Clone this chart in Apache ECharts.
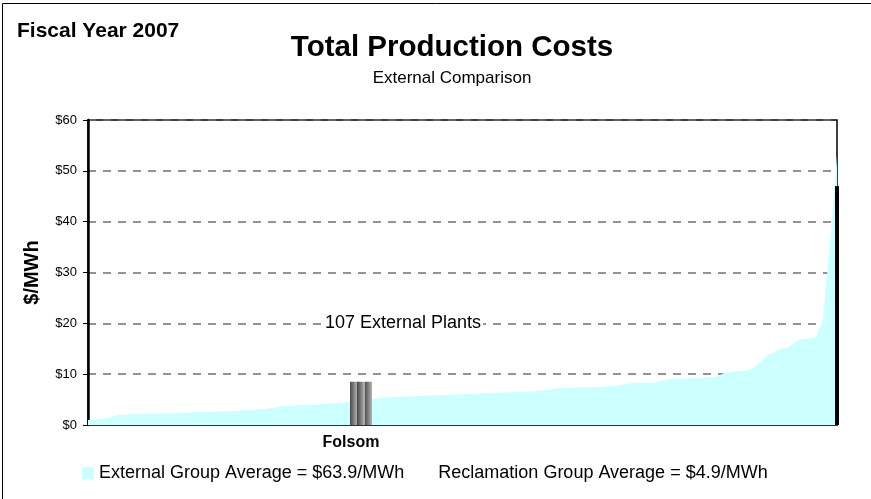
<!DOCTYPE html>
<html><head><meta charset="utf-8">
<script src="https://cdn.jsdelivr.net/npm/echarts@6/dist/echarts.min.js"></script>
<style>html,body{margin:0;padding:0;background:#fff}#c{width:871px;height:499px}</style>
</head><body><div id="c"></div><script>
// ---- data ----
const folsomIndex = 39;
const categories = Array.from({length: 108}, (_, i) => i === folsomIndex ? 'Folsom' : 'Plant ' + (i < folsomIndex ? i + 1 : i));
const costValues = [
  1.0, 1.1, 1.3, 1.4, 1.9, 2.0, 2.1, 2.1, 2.2, 2.2,
  2.2, 2.3, 2.3, 2.4, 2.4, 2.5, 2.5, 2.6, 2.6, 2.7,
  2.7, 2.8, 2.9, 2.9, 3.0, 3.1, 3.3, 3.5, 3.7, 3.8,
  3.9, 4.0, 4.0, 4.1, 4.2, 4.3, 4.4, 4.5, 4.6, 4.7,
  5.0, 5.2, 5.4, 5.4, 5.5, 5.6, 5.6, 5.7, 5.8, 5.8,
  5.9, 5.9, 6.0, 6.0, 6.1, 6.1, 6.2, 6.2, 6.3, 6.4,
  6.4, 6.5, 6.6, 6.6, 6.7, 6.8, 7.0, 7.2, 7.3, 7.3,
  7.4, 7.4, 7.5, 7.5, 7.6, 7.7, 7.8, 8.1, 8.3, 8.3,
  8.3, 8.4, 8.7, 9.0, 9.1, 9.1, 9.2, 9.2, 9.3, 9.4,
  9.6, 10.3, 10.5, 10.6, 10.7, 11.1, 12.4, 13.6, 14.3, 15.0,
  15.2, 16.3, 16.9, 17.0, 17.3, 21.0, 36.0, 53.0
];
const folsomValue = 8.5;
const lastPlantEdge = 47;
const yTicks = [0, 10, 20, 30, 40, 50, 60];
const annotation = {label: '107 External Plants', category: categories[45], value: 20};
const externalName = 'External Group Average = $63.9/MWh';
const reclamationName = 'Reclamation Group Average = $4.9/MWh';

const folsomData = categories.map((c, i) => i === folsomIndex ? folsomValue : '-');
const edgeData = categories.map((c, i) => i === categories.length - 1 ? lastPlantEdge : '-');

const FONT = '"Liberation Sans", Arial, sans-serif';
const chart = echarts.init(document.getElementById('c'), null, {renderer: 'canvas'});
const stripe = new echarts.graphic.LinearGradient(0, 0, 1, 0, [
  {offset: 0, color: '#4a4a4a'}, {offset: 0.333, color: '#b4b4b4'},
  {offset: 0.334, color: '#4a4a4a'}, {offset: 0.666, color: '#b4b4b4'},
  {offset: 0.667, color: '#4a4a4a'}, {offset: 1, color: '#b4b4b4'}
]);
chart.setOption({
  animation: false,
  backgroundColor: '#fff',
  textStyle: {fontFamily: FONT},
  title: [
    {text: 'Fiscal Year 2007', left: 12, top: 16, textStyle: {fontFamily: FONT, fontSize: 21, fontWeight: 'bold', color: '#000'}},
    {text: 'Total Production Costs', left: 447, textAlign: 'center', top: 28,
     textStyle: {fontFamily: FONT, fontSize: 29.5, fontWeight: 'bold', color: '#000'},
     subtext: 'External Comparison', itemGap: 7,
     subtextStyle: {fontFamily: FONT, fontSize: 17, color: '#000'}}
  ],
  legend: {
    left: 77, top: 459, itemWidth: 12, itemHeight: 12, itemGap: 17,
    textStyle: {fontFamily: FONT, fontSize: 18, color: '#000'},
    data: [{name: externalName, icon: 'rect'}, {name: reclamationName, icon: 'none'}]
  },
  graphic: [{type: 'polyline', shape: {points: [[2.5, 499], [2.5, 3.5], [871, 3.5]]}, style: {fill: 'none', stroke: '#000', lineWidth: 1}, silent: true}],
  grid: {left: 88, right: 34, top: 120, bottom: 74, show: true, borderColor: '#000', borderWidth: 1.5, backgroundColor: 'transparent'},
  xAxis: [{
    type: 'category', data: categories, boundaryGap: false,
    axisLine: {lineStyle: {color: '#333', width: 2}}, axisTick: {show: false},
    axisLabel: {interval: 0, margin: 10, fontFamily: FONT, fontSize: 16, fontWeight: 'bold', color: '#000', padding: [0, 20, 0, 0],
      formatter: v => v === 'Folsom' ? v : ''}
  }, {
    type: 'category', data: categories, boundaryGap: false, show: false
  }],
  yAxis: {
    type: 'value', min: 0, max: 60, interval: 10,
    name: '$/MWh', nameLocation: 'middle', nameGap: 46, nameRotate: 90,
    nameTextStyle: {fontFamily: FONT, fontSize: 20, fontWeight: 'bold', color: '#000'},
    axisLine: {show: true, lineStyle: {color: '#000', width: 2.5}},
    axisTick: {show: true, length: 5, lineStyle: {color: '#000'}},
    axisLabel: {fontFamily: FONT, fontSize: 13, color: '#000', margin: 11, formatter: v => yTicks.includes(v) ? '$' + v : ''},
    splitLine: {show: true, lineStyle: {color: '#707070', width: 1.5, type: [8, 7]}}
  },
  series: [{
    name: externalName, type: 'line', data: costValues, symbol: 'none', z: 2,
    lineStyle: {width: 0}, areaStyle: {color: '#ccffff', opacity: 1}, itemStyle: {color: '#ccffff'},
    markPoint: {
      symbol: 'rect', symbolSize: 0,
      label: {show: true, position: 'inside', formatter: annotation.label, fontFamily: FONT, fontSize: 18, color: '#000', backgroundColor: '#fff', padding: [1, 2]},
      data: [{coord: [annotation.category, annotation.value]}]
    }
  }, {
    name: reclamationName, type: 'bar', data: folsomData, barWidth: 22, z: 5,
    itemStyle: {color: stripe}
  }, {
    name: 'edge', type: 'bar', xAxisIndex: 1, data: edgeData, barWidth: 4, z: 5,
    itemStyle: {color: '#000'}
  }]
});
</script></body></html>
